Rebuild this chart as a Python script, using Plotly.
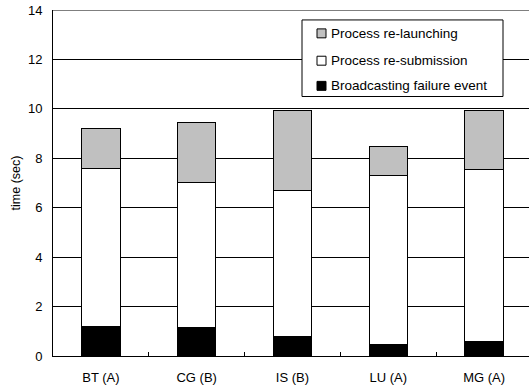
import plotly.graph_objects as go

# Benchmarks and their recovery-time components (seconds)
benchmarks = ["BT (A)", "CG (B)", "IS (B)", "LU (A)", "MG (A)"]
broadcasting = [1.2, 1.14, 0.79, 0.47, 0.6]
resubmission = [6.4, 5.9, 5.9, 6.84, 6.93]
relaunching = [1.6, 2.4, 3.24, 1.16, 2.4]

series_names = ["Broadcasting failure event", "Process re-submission", "Process re-launching"]
series_colors = ["black", "white", "#c0c0c0"]

y_ticks = [0, 2, 4, 6, 8, 10, 12, 14]

W, H = 529, 385
L, R, T, B = 53, 0, 10, 27
plot_w, plot_h = W - L - R, H - T - B


def px_x(px):
    return (px - L) / plot_w


def px_y(py):
    return (H - B - py) / plot_h


x = list(range(len(benchmarks)))
line = dict(color="black", width=1)

fig = go.Figure()
for vals, name, color in zip([broadcasting, resubmission, relaunching], series_names, series_colors):
    fig.add_trace(go.Bar(x=x, y=vals, name=name, width=0.4,
                         marker=dict(color=color, line=line), showlegend=False))

font = dict(family="Liberation Sans, Arial, sans-serif", size=13, color="black")

fig.update_layout(
    barmode="stack",
    width=W, height=H,
    margin=dict(l=L, r=R, t=T, b=B),
    paper_bgcolor="white", plot_bgcolor="white",
    font=font,
    xaxis=dict(
        range=[-0.5, 4.469],
        tickvals=x, ticktext=benchmarks, ticks="",
        showgrid=False, zeroline=False,
        showline=True, linecolor="black", linewidth=1,
        minor=dict(tickvals=[0.5, 1.5, 2.5, 3.5], ticks="inside",
                   ticklen=4, tickcolor="black", showgrid=False),
        tickfont=font, ticklabelstandoff=9,
    ),
    yaxis=dict(
        range=[0, 14],
        tickvals=y_ticks, ticks="",
        showgrid=True, gridcolor="black", gridwidth=1,
        zeroline=False,
        showline=True, linecolor="black", linewidth=1,
        title=dict(text="time (sec)", font=dict(size=12.5, color="black",
                   family="Liberation Sans, Arial, sans-serif"), standoff=4),
        tickfont=font, ticklabelstandoff=7,
    ),
)

# Top border of the plotting area
fig.add_shape(type="line", xref="paper", yref="y", x0=0, x1=1, y0=14, y1=14,
              line=dict(color="black", width=1), layer="below")

# Legend box with one row per series (top row = top of the stack)
fig.add_shape(type="rect", xref="paper", yref="paper",
              x0=px_x(302), x1=px_x(503), y0=px_y(20), y1=px_y(97),
              line=dict(color="black", width=1), fillcolor="white", layer="above")
row_centers = [86.3, 61, 33.5]
for name, color, cy in zip(series_names, series_colors, row_centers):
    fig.add_shape(type="rect", xref="paper", yref="paper",
                  x0=px_x(317), x1=px_x(326), y0=px_y(cy - 4.5), y1=px_y(cy + 4.5),
                  line=dict(color="black", width=1), fillcolor=color, layer="above")
    fig.add_annotation(xref="paper", yref="paper", x=px_x(329), y=px_y(cy),
                       xanchor="left", yanchor="middle", text=name, showarrow=False,
                       font=dict(family="Liberation Sans, Arial, sans-serif", size=13.5,
                                 color="black"))

fig.write_html("out.html")
